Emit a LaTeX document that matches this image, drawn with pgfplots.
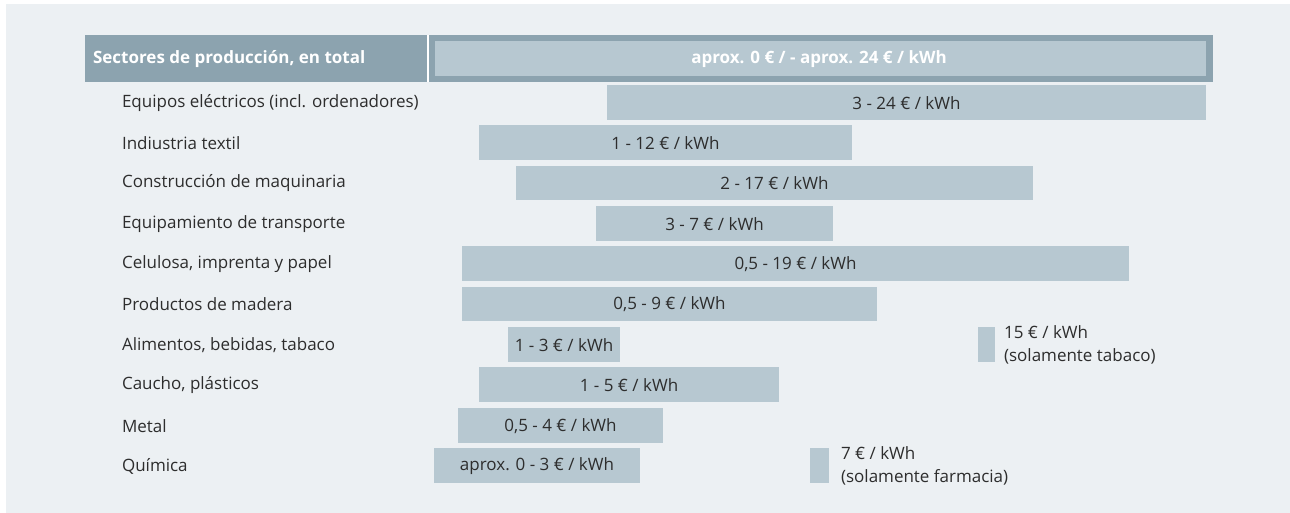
\documentclass[border=0pt]{standalone}
\usepackage{pgfplots}
\pgfplotsset{compat=1.18}
\usepackage{fontspec}
\setmainfont{Open Sans}
\definecolor{panel}{RGB}{236,240,243}
\definecolor{hdr}{RGB}{140,163,175}
\definecolor{barc}{RGB}{183,200,209}
\definecolor{txt}{RGB}{45,45,45}
\begin{document}
\begin{tikzpicture}
\begin{axis}[
  width=1290pt, height=513pt, scale only axis,
  xmin=0, xmax=1290, ymin=0, ymax=513, y dir=reverse,
  hide axis, clip=false,
]
\fill[white] (axis cs:0,0) rectangle (axis cs:1290,513);
\fill[panel] (axis cs:6,4) rectangle (axis cs:1290,513);
% header
\addplot[fill=hdr, draw=none] coordinates {(85,35) (1213,35) (1213,82) (85,82)};
\addplot[fill=white, draw=none] coordinates {(427,35) (428.5,35) (428.5,82) (427,82)};
\addplot[fill=barc, draw=none] coordinates {(435,41) (1206,41) (1206,76) (435,76)};
% rows
\addplot[fill=barc, draw=none] coordinates {(607,85) (1206,85) (1206,120) (607,120)};
\addplot[fill=barc, draw=none] coordinates {(479,125) (852,125) (852,160) (479,160)};
\addplot[fill=barc, draw=none] coordinates {(516,166) (1033,166) (1033,200) (516,200)};
\addplot[fill=barc, draw=none] coordinates {(596,206) (833,206) (833,241) (596,241)};
\addplot[fill=barc, draw=none] coordinates {(462,246) (1129,246) (1129,281) (462,281)};
\addplot[fill=barc, draw=none] coordinates {(462,287) (877,287) (877,321) (462,321)};
\addplot[fill=barc, draw=none] coordinates {(508,327) (620,327) (620,362) (508,362)};
\addplot[fill=barc, draw=none] coordinates {(479,367) (779,367) (779,402) (479,402)};
\addplot[fill=barc, draw=none] coordinates {(458,408) (663,408) (663,443) (458,443)};
\addplot[fill=barc, draw=none] coordinates {(434,448) (640,448) (640,483) (434,483)};
\addplot[fill=barc, draw=none] coordinates {(978,327) (995,327) (995,362) (978,362)};
\addplot[fill=barc, draw=none] coordinates {(810,448) (829,448) (829,483) (810,483)};
% header texts
\node[anchor=west, text=white, font=\fontsize{17}{20}\selectfont\bfseries] at (axis cs:89.5,59) {Sectores de producción, en total};
\node[text=white, font=\fontsize{17}{20}\selectfont\bfseries] at (axis cs:819,59) {aprox. 0 € / - aprox. 24 € / kWh};
% row labels
\begin{scope}[every node/.style={text=txt, font=\fontsize{17}{20}\selectfont}]
\node[anchor=west] at (axis cs:118.5,103) {Equipos eléctricos (incl. ordenadores)};
\node[anchor=west] at (axis cs:118.5,143) {Indiustria textil};
\node[anchor=west] at (axis cs:118.5,183.5) {Construcción de maquinaria};
\node[anchor=west] at (axis cs:118.5,224) {Equipamiento de transporte};
\node[anchor=west] at (axis cs:118.5,264) {Celulosa, imprenta y papel};
\node[anchor=west] at (axis cs:118.5,304.5) {Productos de madera};
\node[anchor=west] at (axis cs:118.5,345) {Alimentos, bebidas, tabaco};
\node[anchor=west] at (axis cs:118.5,385.5) {Caucho, plásticos};
\node[anchor=west] at (axis cs:118.5,426) {Metal};
\node[anchor=west] at (axis cs:118.5,466) {Química};
% bar labels
\node at (axis cs:906.5,103) {3 - 24 € / kWh};
\node at (axis cs:665.5,143) {1 - 12 € / kWh};
\node at (axis cs:774.5,183.5) {2 - 17 € / kWh};
\node at (axis cs:714.5,224) {3 - 7 € / kWh};
\node at (axis cs:795.5,264) {0,5 - 19 € / kWh};
\node at (axis cs:669.5,304.5) {0,5 - 9 € / kWh};
\node at (axis cs:564,345) {1 - 3 € / kWh};
\node at (axis cs:629,385.5) {1 - 5 € / kWh};
\node at (axis cs:560.5,426) {0,5 - 4 € / kWh};
\node at (axis cs:537,466) {aprox. 0 - 3 € / kWh};
\node[anchor=west, align=left, font=\fontsize{17}{23}\selectfont] at (axis cs:1000.5,344.5) {15 € / kWh\\(solamente tabaco)};
\node[anchor=west, align=left, font=\fontsize{17}{23}\selectfont] at (axis cs:837.5,465.5) {7 € / kWh\\(solamente farmacia)};
\end{scope}
\end{axis}
\end{tikzpicture}
\end{document}
